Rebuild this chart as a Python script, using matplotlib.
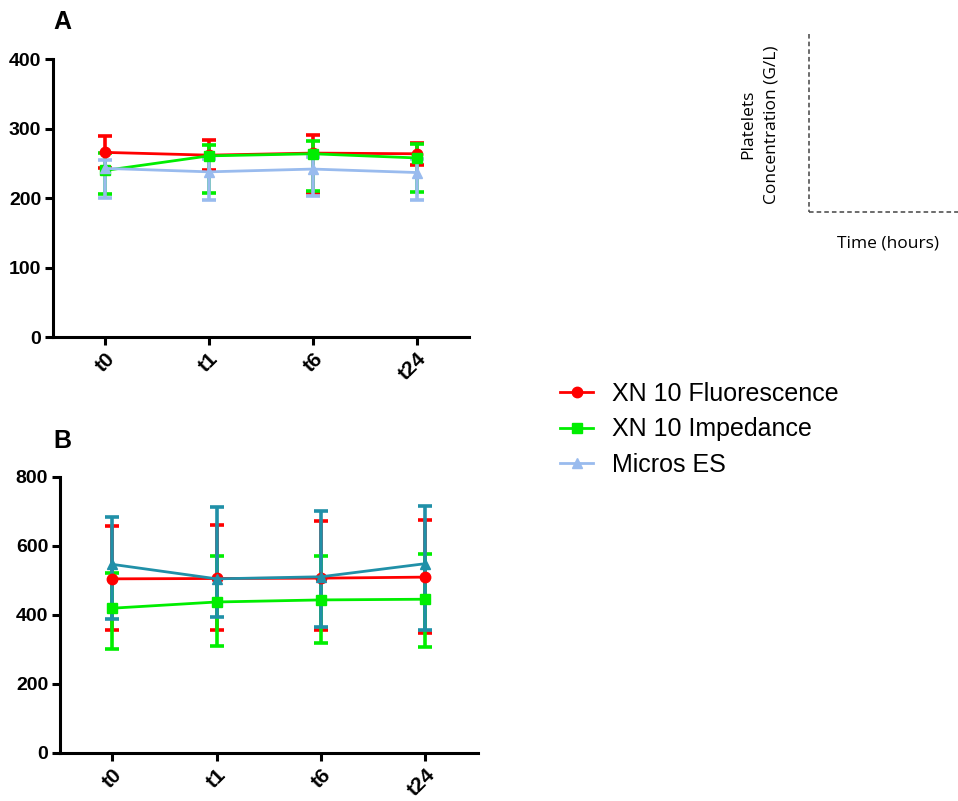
import matplotlib
matplotlib.use('Agg')
import matplotlib.pyplot as plt
from matplotlib.lines import Line2D

plt.rcParams['font.family'] = ['Liberation Sans', 'DejaVu Sans']

# 时间点
times = ['t0', 't1', 't6', 't24']

# 图A数据 (均值, 上限, 下限)
a_fluo = [266, 262, 265, 264]
a_fluo_hi = [289, 284, 291, 280]
a_fluo_lo = [243, 240, 207, 248]
a_imp = [240, 261, 264, 258]
a_imp_hi = [265, 277, 283, 278]
a_imp_lo = [206, 208, 211, 209]
a_micros = [243, 238, 242, 237]
a_micros_hi = [255, 256, 260, 256]
a_micros_lo = [200, 198, 203, 198]

# 图B数据
b_fluo = [504, 505, 506, 509]
b_fluo_hi = [657, 661, 671, 674]
b_fluo_lo = [355, 357, 356, 346]
b_imp = [419, 437, 443, 445]
b_imp_hi = [522, 571, 570, 577]
b_imp_lo = [300, 309, 317, 307]
b_micros = [546, 504, 510, 548]
b_micros_hi = [684, 713, 699, 715]
b_micros_lo = [388, 394, 365, 356]

names = ['XN 10 Fluorescence', 'XN 10 Impedance', 'Micros ES']
markers = ['o', 's', '^']
colors_a = ['#ff0000', '#00ee00', '#99bbee']
colors_b = ['#ff0000', '#00ee00', '#2090a8']

fig = plt.figure(figsize=(9.58, 8.01), dpi=100)
ax_a = fig.add_axes([0.0553, 0.579, 0.434, 0.347])
ax_b = fig.add_axes([0.0626, 0.060, 0.436, 0.345])


def draw(ax, series, colors, ymax, ystep):
    handles = []
    x = range(len(times))
    for (m, hi, lo), c, mk, name in zip(series, colors, markers, names):
        err = [[v - l for v, l in zip(m, lo)], [h - v for v, h in zip(m, hi)]]
        cont = ax.errorbar(x, m, yerr=err, color=c, marker=mk, markersize=7.5,
                           linewidth=2, elinewidth=2.6, capsize=4.8, capthick=2.6,
                           label=name, clip_on=False)
        handles.append(cont.lines[0])
    ax.set_xlim(-0.5, 3.5)
    ax.set_ylim(0, ymax)
    ax.set_yticks(range(0, ymax + 1, ystep))
    ax.set_xticks(list(x))
    ax.set_xticklabels(times, rotation=45, ha='right', rotation_mode='anchor')
    for s in ['top', 'right']:
        ax.spines[s].set_visible(False)
    for s in ['left', 'bottom']:
        ax.spines[s].set_linewidth(2.2)
    ax.tick_params(width=2.2, length=5.5, labelsize=14, pad=3)
    ax.tick_params(axis='x', labelsize=15)
    for lab in ax.get_xticklabels() + ax.get_yticklabels():
        lab.set_fontweight('bold')
    return handles


h = draw(ax_a, [(a_fluo, a_fluo_hi, a_fluo_lo), (a_imp, a_imp_hi, a_imp_lo),
                (a_micros, a_micros_hi, a_micros_lo)], colors_a, 400, 100)
draw(ax_b, [(b_fluo, b_fluo_hi, b_fluo_lo), (b_imp, b_imp_hi, b_imp_lo),
            (b_micros, b_micros_hi, b_micros_lo)], colors_b, 800, 200)

# 面板标签
fig.text(62 / 958, 1 - 22 / 801, 'A', fontsize=18, fontweight='bold', ha='center', va='center')
fig.text(62 / 958, 1 - 441 / 801, 'B', fontsize=18, fontweight='bold', ha='center', va='center')

# 图例
fig.legend(handles=h, labels=names, loc='upper left',
           bbox_to_anchor=(560 / 958, 1 - 382 / 801), frameon=False, fontsize=18,
           borderaxespad=0, borderpad=0, handlelength=1.32, handletextpad=0.76,
           labelspacing=0.45)

# 右上角的坐标示意
fig.add_artist(Line2D([809 / 958, 809 / 958], [1 - 34 / 801, 1 - 212 / 801],
                      color='#444444', linestyle=(0, (3, 2)), linewidth=1.1))
fig.add_artist(Line2D([809 / 958, 1.0], [1 - 212 / 801, 1 - 212 / 801],
                      color='#444444', linestyle=(0, (3, 2)), linewidth=1.1))
fig.text(748 / 958, 1 - 124 / 801, 'Platelets', rotation=90,
         ha='center', va='center', fontsize=12.5, family='Open Sans')
fig.text(772 / 958, 1 - 125 / 801, 'Concentration (G/L)', rotation=90,
         ha='center', va='center', fontsize=12.5, family='Open Sans')
fig.text(888 / 958, 1 - 243 / 801, 'Time (hours)', ha='center', va='center',
         fontsize=12.5, family='Open Sans')

plt.savefig('out.png', dpi=100)
